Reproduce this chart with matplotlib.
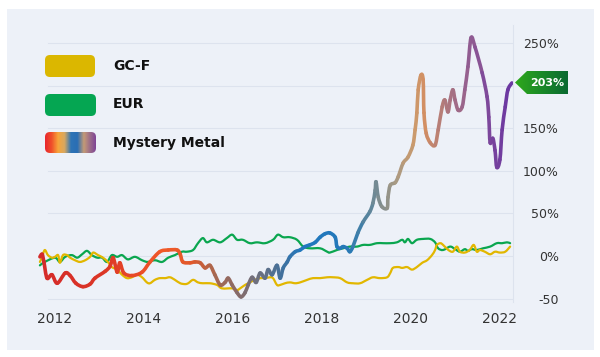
import numpy as np
import matplotlib
matplotlib.use("Agg")
import matplotlib.pyplot as plt
from matplotlib.collections import PathCollection
from matplotlib.colors import LinearSegmentedColormap
from matplotlib.patches import FancyBboxPatch, Rectangle, Polygon, PathPatch
from matplotlib.path import Path

# ---------------- data ----------------
mm_years = [2011.66, 2011.71, 2011.75, 2011.82, 2011.93, 2012.05, 2012.23, 2012.34, 2012.47, 2012.63,
            2012.79, 2012.90, 2013.13, 2013.24, 2013.31, 2013.40, 2013.46, 2013.55, 2013.73, 2013.96,
            2014.14, 2014.36, 2014.55, 2014.75, 2014.82, 2014.88, 2015.04, 2015.15, 2015.27, 2015.38,
            2015.49, 2015.60, 2015.72, 2015.83, 2015.90, 2015.99, 2016.10, 2016.19, 2016.28, 2016.35,
            2016.44, 2016.53, 2016.62, 2016.73, 2016.80, 2016.89, 2017.00, 2017.07, 2017.14, 2017.23,
            2017.29, 2017.41, 2017.52, 2017.63, 2017.74, 2017.86, 2017.97, 2018.08, 2018.19, 2018.31,
            2018.35, 2018.42, 2018.49, 2018.58, 2018.64, 2018.71, 2018.82, 2018.94, 2019.09, 2019.16,
            2019.21, 2019.23, 2019.28, 2019.36, 2019.48, 2019.50, 2019.55, 2019.66, 2019.73, 2019.84,
            2019.95, 2020.06, 2020.11, 2020.15, 2020.18, 2020.24, 2020.29, 2020.31, 2020.36, 2020.45,
            2020.56, 2020.63, 2020.72, 2020.78, 2020.85, 2020.90, 2020.96, 2021.01, 2021.08, 2021.17,
            2021.23, 2021.30, 2021.37, 2021.46, 2021.62, 2021.73, 2021.77, 2021.80, 2021.86, 2021.91,
            2021.95, 2022.02, 2022.07, 2022.14, 2022.20, 2022.29]
mm_values = [-1, 2, -7, -26, -22, -32, -20, -23, -32, -36,
             -33, -26, -18, -12, -2, -19, -8, -20, -23, -19,
             -7, 5, 7, 7, 2, -7, -8, -7, -8, -14,
             -11, -22, -34, -31, -26, -34, -43, -48, -43, -34,
             -25, -31, -20, -26, -16, -22, -11, -26, -14, -7,
             -1, 5, 7, 11, 13, 16, 22, 26, 27, 22,
             11, 9, 11, 9, 5, 11, 27, 40, 52, 62,
             77, 87, 69, 58, 56, 69, 83, 86, 93, 109,
             116, 130, 148, 168, 195, 212, 207, 168, 144, 133,
             130, 148, 175, 183, 169, 183, 195, 183, 171, 175,
             195, 222, 256, 245, 215, 187, 163, 133, 138, 124,
             104, 113, 148, 175, 195, 203]

eur_years = [2011.66, 2011.77, 2012.00, 2012.11, 2012.23, 2012.38, 2012.50, 2012.61, 2012.72, 2012.83,
             2012.95, 2013.06, 2013.17, 2013.28, 2013.40, 2013.51, 2013.64, 2013.80, 2013.96, 2014.09,
             2014.25, 2014.41, 2014.55, 2014.70, 2014.86, 2014.97, 2015.11, 2015.22, 2015.33, 2015.42,
             2015.56, 2015.72, 2015.87, 2015.99, 2016.10, 2016.23, 2016.39, 2016.55, 2016.73, 2016.91,
             2017.02, 2017.14, 2017.29, 2017.45, 2017.59, 2017.74, 2017.97, 2018.13, 2018.19, 2018.35,
             2018.49, 2018.64, 2018.80, 2018.94, 2019.09, 2019.25, 2019.39, 2019.55, 2019.70, 2019.82,
             2019.88, 2019.95, 2020.04, 2020.15, 2020.29, 2020.45, 2020.56, 2020.63, 2020.74, 2020.90,
             2021.01, 2021.12, 2021.23, 2021.30, 2021.39, 2021.50, 2021.64, 2021.80, 2021.95, 2022.07,
             2022.18, 2022.25]
eur_values = [-11, -7, -2, -7, -1, 1, -2, 2, 6, 1,
              -2, -2, -7, 1, -1, 1, -4, -1, -5, -7,
              -5, -7, -2, 1, 5, 5, 7, 15, 21, 16,
              19, 16, 21, 25, 19, 19, 15, 16, 15, 19,
              25, 22, 22, 19, 11, 9, 9, 5, 4, 7,
              9, 11, 11, 13, 13, 15, 15, 15, 16, 19,
              16, 20, 15, 19, 20, 20, 16, 9, 7, 11,
              8, 5, 8, 6, 8, 7, 9, 11, 15, 15,
              16, 15]

gcf_years = [2011.66, 2011.71, 2011.77, 2011.84, 2011.93, 2012.00, 2012.07, 2012.11, 2012.18, 2012.27,
             2012.34, 2012.45, 2012.56, 2012.68, 2012.79, 2012.86, 2012.97, 2013.08, 2013.19, 2013.28,
             2013.40, 2013.51, 2013.62, 2013.73, 2013.85, 2013.96, 2014.07, 2014.14, 2014.25, 2014.36,
             2014.48, 2014.59, 2014.70, 2014.82, 2014.93, 2015.00, 2015.11, 2015.22, 2015.33, 2015.49,
             2015.65, 2015.76, 2015.99, 2016.10, 2016.17, 2016.28, 2016.39, 2016.50, 2016.62, 2016.73,
             2016.84, 2016.91, 2017.00, 2017.07, 2017.18, 2017.29, 2017.41, 2017.52, 2017.68, 2017.81,
             2017.97, 2018.13, 2018.26, 2018.42, 2018.58, 2018.71, 2018.87, 2019.03, 2019.16, 2019.32,
             2019.48, 2019.55, 2019.61, 2019.73, 2019.82, 2019.93, 2020.04, 2020.15, 2020.27, 2020.38,
             2020.49, 2020.56, 2020.60, 2020.68, 2020.74, 2020.86, 2020.96, 2021.05, 2021.12, 2021.23,
             2021.34, 2021.43, 2021.50, 2021.57, 2021.68, 2021.80, 2021.91, 2022.02, 2022.14, 2022.25]
gcf_values = [-7, -1, 7, 1, -2, -1, 1, -8, 1, 1,
              -2, -5, -7, -5, -1, 4, 1, -2, -7, -13,
              -16, -22, -26, -25, -22, -25, -31, -32, -28, -26,
              -26, -25, -28, -32, -33, -32, -28, -31, -32, -32,
              -34, -38, -38, -40, -38, -34, -31, -28, -26, -26,
              -25, -26, -34, -34, -32, -31, -32, -31, -28, -26,
              -26, -25, -25, -26, -31, -32, -32, -28, -25, -26,
              -25, -20, -14, -13, -14, -13, -16, -13, -8, -5,
              1, 7, 13, 15, 13, 7, 5, 11, 5, 4,
              7, 13, 5, 7, 5, 2, 5, 4, 5, 11]

x_ticks = [2012, 2014, 2016, 2018, 2020, 2022]
y_ticks = [-50, 0, 50, 100, 150, 200, 250]
y_tick_labels = ["-50", "0%", "50%", "100%", "150%", "", "250%"]  # 200% hidden under tag
series_names = ["GC-F", "EUR", "Mystery Metal"]
last_label = "203%"

# ---------------- style ----------------
W, H = 600, 357
GOLD = "#e2b700"
GREEN = "#0aa64f"
PANEL = "#edf1f8"
GRID = "#dde3ee"
mm_stops = [(2011.66, "#d42a2a"), (2013.0, "#db3526"), (2014.5, "#f25a28"), (2015.1, "#e0582a"),
            (2015.6, "#a86850"), (2016.1, "#8a6a66"), (2016.6, "#6c7080"), (2017.1, "#44709a"),
            (2017.6, "#1f78c0"), (2018.6, "#2478b8"), (2019.0, "#4f82a0"), (2019.3, "#7c8c90"),
            (2019.7, "#a89a84"), (2020.1, "#cc9a6c"), (2020.35, "#d28e62"), (2020.8, "#b07a7c"),
            (2021.3, "#95608f"), (2021.8, "#7b469c"), (2022.29, "#6a36a2")]
lo, hi = mm_stops[0][0], mm_stops[-1][0]
mm_cmap = LinearSegmentedColormap.from_list(
    "mm", [((t - lo) / (hi - lo), c) for t, c in mm_stops])


def smooth_segments(xs, ys):
    """Cubic Bezier pieces (Catmull-Rom style) passing through every data point."""
    p = np.column_stack([xs, ys]).astype(float)
    n = len(p)
    pieces = []
    for i in range(n - 1):
        p0 = p[i - 1] if i > 0 else p[i]
        p1, p2 = p[i], p[i + 1]
        p3 = p[i + 2] if i + 2 < n else p[i + 1]
        c1 = p1 + (p2 - p0) / 6.0
        c2 = p2 - (p3 - p1) / 6.0
        pieces.append((p1, c1, c2, p2))
    return pieces


def smooth_path(xs, ys):
    pieces = smooth_segments(xs, ys)
    verts = [pieces[0][0]]
    codes = [Path.MOVETO]
    for _, c1, c2, p2 in pieces:
        verts += [c1, c2, p2]
        codes += [Path.CURVE4] * 3
    return Path(np.array(verts), codes)


plt.rcParams["font.family"] = ["DejaVu Sans"]
fig = plt.figure(figsize=(W / 100, H / 100), dpi=100)
fig.patch.set_facecolor("white")

def fx(px):
    return px / W

def fy(py):
    return 1 - py / H

fig.patches.append(Rectangle((fx(7), fy(350)), fx(587), (350 - 9) / H,
                             transform=fig.transFigure, facecolor=PANEL,
                             edgecolor="none", zorder=-10))

ax_l, ax_r, ax_t, ax_b = 38, 513, 25, 302
ax = fig.add_axes([fx(ax_l), fy(ax_b), (ax_r - ax_l) / W, (ax_b - ax_t) / H])
ax.set_facecolor("none")
ax.set_xlim(2011.617, 2022.315)
ax.set_ylim(-54, 271)
for s in ["top", "left", "bottom"]:
    ax.spines[s].set_visible(False)
ax.spines["right"].set_color(GRID)
ax.spines["right"].set_linewidth(0.8)

gx0 = (48 - ax_l) / (ax_r - ax_l)
for yv in y_ticks:
    ax.axhline(yv, xmin=gx0, xmax=1, color=GRID, lw=0.8, zorder=0)

ax.set_xticks(x_ticks)
ax.set_xticklabels([str(v) for v in x_ticks])
ax.tick_params(axis="x", length=0, pad=7, labelsize=10, labelcolor="#333333")
ax.yaxis.tick_right()
ax.set_yticks(y_ticks)
ax.set_yticklabels(y_tick_labels)
ax.tick_params(axis="y", length=0, pad=33, labelsize=9, labelcolor="#333333")
for lab in ax.get_yticklabels():
    lab.set_horizontalalignment("right")

ax.add_patch(PathPatch(smooth_path(eur_years, eur_values), facecolor="none",
                       edgecolor=GREEN, lw=1.6, joinstyle="round", capstyle="round", zorder=2))
ax.add_patch(PathPatch(smooth_path(gcf_years, gcf_values), facecolor="none",
                       edgecolor=GOLD, lw=1.6, joinstyle="round", capstyle="round", zorder=3))

mm_pieces = smooth_segments(mm_years, mm_values)
mm_paths = [Path(np.array(pc), [Path.MOVETO, Path.CURVE4, Path.CURVE4, Path.CURVE4])
            for pc in mm_pieces]
mids = (np.array(mm_years[:-1]) + np.array(mm_years[1:])) / 2
pc = PathCollection(mm_paths, facecolors="none",
                    edgecolors=mm_cmap((mids - lo) / (hi - lo)), linewidths=2.6,
                    transform=ax.transData, zorder=4)
pc.set_capstyle("round")
pc.set_joinstyle("round")
ax.add_collection(pc)

# ---------------- legend ----------------
def swatch(x0, y0, x1, y1, color=None, gradient=None):
    sax = fig.add_axes([fx(x0 - 1), fy(y1 + 1), (x1 - x0 + 2) / W, (y1 - y0 + 2) / H])
    sax.set_xlim(x0 - 1, x1 + 1)
    sax.set_ylim(y1 + 1, y0 - 1)
    sax.axis("off")
    box = FancyBboxPatch((x0 + 5, y0 + 5), (x1 - x0) - 10, (y1 - y0) - 10,
                         boxstyle="round,pad=5", transform=sax.transData,
                         facecolor=color if color else "none", edgecolor="none")
    sax.add_patch(box)
    if gradient is not None:
        cm = LinearSegmentedColormap.from_list("sw", gradient)
        im = sax.imshow(np.linspace(0, 1, 200)[None, :], cmap=cm, aspect="auto",
                        extent=(x0, x1, y1, y0))
        im.set_clip_path(box)

swatch(45, 55, 95, 77, color="#dbb700")
swatch(45, 94, 96, 116, color="#05a652")
swatch(45, 132, 96, 153, gradient=["#e8262e", "#f0502a", "#f7a43a", "#d8a860",
                                    "#2e74b6", "#2a6eb4", "#c49a76", "#9a6a8a", "#7a3e98"])
for name, yc in zip(series_names, [66, 104, 143]):
    fig.text(fx(113), fy(yc), name, fontsize=10, fontweight="bold",
             color="#111111", va="center", ha="left")

# ---------------- end tag ----------------
tx0, tx1, ty0, ty1 = 515, 568, 71, 94
tax = fig.add_axes([fx(tx0), fy(ty1), (tx1 - tx0) / W, (ty1 - ty0) / H], zorder=5)
tax.set_xlim(tx0, tx1)
tax.set_ylim(ty1, ty0)
tax.axis("off")
tip_y = (ty0 + ty1) / 2
poly = Polygon([(tx0, tip_y), (tx0 + 12, ty0), (tx1, ty0), (tx1, ty1), (tx0 + 12, ty1)],
               closed=True, transform=tax.transData, facecolor="none", edgecolor="none")
tax.add_patch(poly)
tcm = LinearSegmentedColormap.from_list("tag", ["#2fa81c", "#1a8a28", "#0b6a32"])
tim = tax.imshow(np.linspace(0, 1, 100)[None, :], cmap=tcm, aspect="auto",
                 extent=(tx0, tx1, ty1, ty0))
tim.set_clip_path(poly)
tax.text((tx0 + 10 + tx1) / 2 + 1, tip_y, last_label, color="white", fontsize=8,
         fontweight="bold", ha="center", va="center")

fig.savefig("out.png", dpi=100)
